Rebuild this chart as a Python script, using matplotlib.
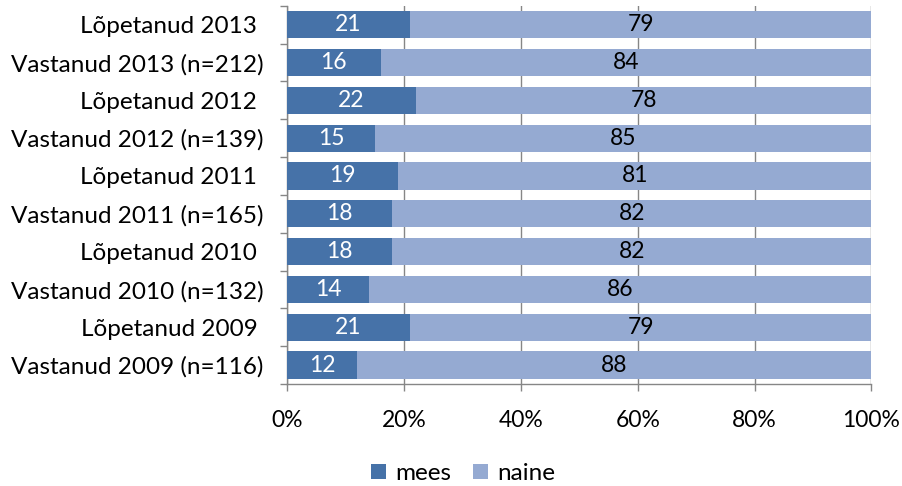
import matplotlib
matplotlib.use('Agg')
import matplotlib.pyplot as plt
import numpy as np

plt.rcParams['font.family'] = ['Lato', 'DejaVu Sans']

categories = ['Lõpetanud 2013 ', 'Vastanud 2013 (n=212)', 'Lõpetanud 2012 ',
              'Vastanud 2012 (n=139)', 'Lõpetanud 2011 ', 'Vastanud 2011 (n=165)',
              'Lõpetanud 2010 ', 'Vastanud 2010 (n=132)', 'Lõpetanud 2009 ',
              'Vastanud 2009 (n=116)']
mees = [21, 16, 22, 15, 19, 18, 18, 14, 21, 12]
naine = [79, 84, 78, 85, 81, 82, 82, 86, 79, 88]

C_MEES = '#4672A8'
C_NAINE = '#95AAD2'
GRID = '#868686'
FS = 16.5

fig = plt.figure(figsize=(9.03, 4.86), dpi=100)
ax = fig.add_axes([0.318, 0.210, 0.647, 0.778])

y = np.arange(len(categories))
h = 0.72
ax.barh(y, mees, height=h, color=C_MEES, label='mees', zorder=3)
ax.barh(y, naine, left=mees, height=h, color=C_NAINE, label='naine', zorder=3)

for yi, m, n in zip(y, mees, naine):
    ax.text(m / 2, yi, str(m), ha='center', va='center', color='white', fontsize=FS, zorder=4)
    ax.text(m + n / 2, yi, str(n), ha='center', va='center', color='black', fontsize=FS, zorder=4)

ax.set_xlim(0, 100)
ax.set_ylim(len(categories) - 0.5, -0.5)
ax.set_xticks(np.arange(0, 101, 20))
ax.set_xticklabels([f'{v}%' for v in range(0, 101, 20)], fontsize=FS)
ax.set_yticks(y)
ax.set_yticklabels(categories, fontsize=17.5)
ax.tick_params(axis='y', length=0, pad=17)
ax.set_yticks(np.arange(-0.5, len(categories), 1), minor=True)
ax.tick_params(axis='y', which='minor', length=5, color=GRID, width=1)
ax.tick_params(axis='x', length=5, color=GRID, width=1, pad=14, direction='out')

ax.grid(axis='x', color=GRID, linewidth=1, zorder=0)
for s in ['top', 'right']:
    ax.spines[s].set_visible(False)
for s in ['left', 'bottom']:
    ax.spines[s].set_color(GRID)
    ax.spines[s].set_linewidth(1)

fig.legend(loc='center', bbox_to_anchor=(0.513, 0.025), ncol=2, frameon=False,
           fontsize=17.5, handlelength=0.6, handleheight=0.6, handletextpad=0.4,
           columnspacing=0.9, borderaxespad=0, borderpad=0)

fig.savefig('out.png', dpi=100)
